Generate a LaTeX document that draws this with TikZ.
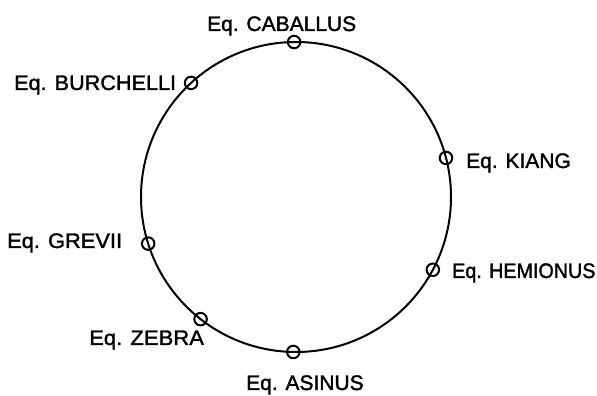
\documentclass[tikz,border=0pt]{standalone}
\usepackage{fontspec}
\setmainfont{Liberation Sans}[FakeBold=1.6]
\usetikzlibrary{calc}
\begin{document}
\begin{tikzpicture}[x=1pt,y=1pt,
  ring/.style={line width=2pt,black},
  marker/.style={circle,draw=black,line width=2pt,minimum size=12.5pt,inner sep=0pt},
  lbl/.style={anchor=base west,inner sep=0pt,font=\fontsize{21}{24}\selectfont,text=black}]
\useasboundingbox (0,0) rectangle (597,396);
\coordinate (c) at (296,199);
\draw[ring] (c) circle[radius=155];
\node[marker] (mcab) at ($(c)+(90.7:155)$) {};
\node[marker] (mbur) at ($(c)+(132.6:155)$) {};
\node[marker] (mgre) at ($(c)+(197.5:155)$) {};
\node[marker] (mzeb) at ($(c)+(232:155)$) {};
\node[marker] (masi) at ($(c)+(269:155)$) {};
\node[marker] (mhem) at ($(c)+(332:155)$) {};
\node[marker] (mkia) at ($(c)+(14.6:155)$) {};
\node[lbl] (tcab) at (207,365) {Eq. CABALLUS};
\node[lbl,xscale=1.03] (tbur) at (14,306) {Eq. BURCHELLI};
\node[lbl] (tkia) at (466,228) {Eq. KIANG};
\node[lbl,xscale=1.04] (tgre) at (7,148) {Eq. GREVII};
\node[lbl,xscale=0.94] (them) at (452,118) {Eq. HEMIONUS};
\node[lbl,xscale=1.05] (tzeb) at (89,51) {Eq. ZEBRA};
\node[lbl] (tasi) at (246,6) {Eq. ASINUS};
\end{tikzpicture}
\end{document}
